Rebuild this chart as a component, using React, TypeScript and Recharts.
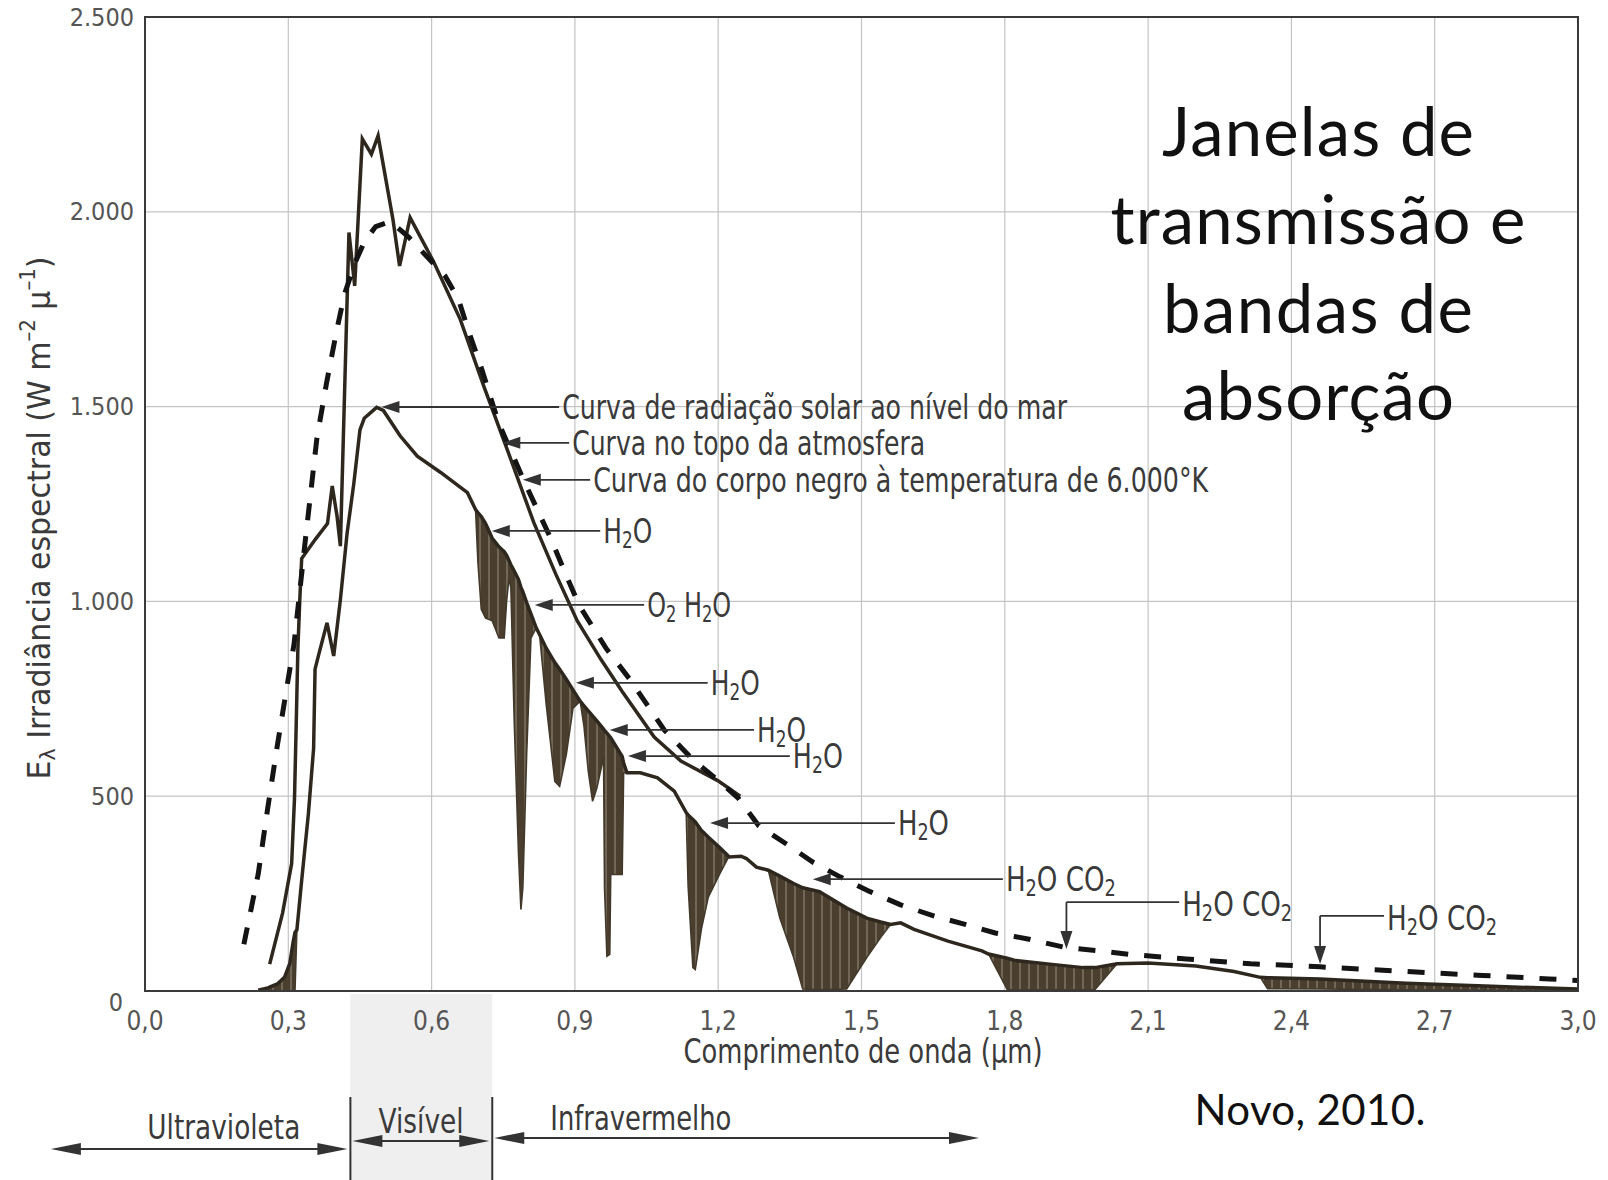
import React from "react";
import { ComposedChart, Line, Area, XAxis, YAxis, CartesianGrid } from "recharts";

// ---------------- layout ----------------
const W = 1608;
const H = 1180;
const PLOT_L = 145;
const PLOT_T = 17;
const PLOT_R = 1578;
const PLOT_B = 991;
const PLOT_W = PLOT_R - PLOT_L;
const PLOT_H = PLOT_B - PLOT_T;
const X_AXIS_H = 40;
const MARGIN = { top: PLOT_T, right: W - PLOT_R, left: 0, bottom: H - PLOT_B - X_AXIS_H };
const X_MIN = 0;
const X_MAX = 3;
const Y_MIN = 0;
const Y_MAX = 2500;

const NARROW = "'Liberation Sans Narrow', 'Arial Narrow', 'DejaVu Sans Condensed', 'Liberation Sans', sans-serif";
const TITLE_FONT = "Lato, 'Open Sans', 'Noto Sans', sans-serif";

// ---------------- axes ----------------
const xTicks = [0, 0.3, 0.6, 0.9, 1.2, 1.5, 1.8, 2.1, 2.4, 2.7, 3.0];
const yTicks = [0, 500, 1000, 1500, 2000, 2500];

// ---------------- data ----------------
// Curva de radiação solar ao nível do mar: envelope (linha) e curva com absorção
const seaX = [
  0.237, 0.257, 0.277, 0.292, 0.303, 0.31, 0.314, 0.318, 0.328, 0.342,
  0.353, 0.356, 0.363, 0.381, 0.395, 0.409, 0.423, 0.437, 0.45, 0.459,
  0.485, 0.499, 0.534, 0.57, 0.619, 0.675, 0.692, 0.697, 0.704, 0.713,
  0.727, 0.741, 0.752, 0.757, 0.762, 0.766, 0.773, 0.782, 0.787, 0.791,
  0.799, 0.808, 0.819, 0.826, 0.84, 0.858, 0.868, 0.882, 0.896, 0.911,
  0.919, 0.928, 0.937, 0.946, 0.96, 0.962, 0.967, 0.973, 0.975, 0.999,
  1.002, 1.009, 1.037, 1.073, 1.108, 1.133, 1.137, 1.147, 1.152, 1.165,
  1.179, 1.203, 1.22, 1.223, 1.248, 1.259, 1.28, 1.305, 1.329, 1.358,
  1.377, 1.412, 1.469, 1.511, 1.54, 1.561, 1.582, 1.61, 1.681, 1.752,
  1.766, 1.805, 1.823, 1.894, 1.964, 1.989, 2.035, 2.1, 2.2, 2.28,
  2.335, 2.35, 2.46, 2.64, 2.82, 3.0,
];
const seaEnvelope = [
  2, 8, 18, 35, 70, 125, 150, 157, 284, 454,
  623, 826, 860, 945, 860, 1004, 1174, 1301, 1440, 1470,
  1498, 1490, 1425, 1373, 1331, 1279, 1236, 1228, 1218, 1200,
  1162, 1140, 1128, 1118, 1105, 1094, 1078, 1056, 1036, 1025,
  997, 968, 932, 915, 880, 843, 826, 800, 773, 744,
  732, 719, 706, 693, 672, 669, 662, 653, 650, 602,
  585, 560, 560, 547, 513, 458, 452, 440, 434, 412,
  395, 368, 348, 344, 346, 340, 318, 310, 295, 276,
  265, 255, 213, 187, 177, 171, 175, 158, 128, 103,
  95, 84, 78, 69, 60, 60, 70, 72, 64, 50,
  35, 34, 31, 20, 12, 5,
];
const seaAbsorbed = [
  0, 0, 0, 0, 0, 0, 0, 157, 284, 454,
  623, 826, 860, 945, 860, 1004, 1174, 1301, 1440, 1470,
  1498, 1490, 1425, 1373, 1331, 1279, 1236, 1100, 980, 957,
  950, 906, 906, 1000, 1060, 1034, 692, 350, 209, 265,
  607, 906, 932, 915, 735, 538, 525, 607, 726, 744,
  680, 564, 487, 521, 600, 265, 89, 94, 299, 299,
  560, 560, 560, 547, 513, 458, 270, 60, 55, 160,
  240, 300, 340, 344, 346, 340, 318, 310, 187, 86,
  5, 3, 5, 86, 137, 171, 175, 158, 128, 103,
  95, 4, 3, 3, 3, 4, 70, 72, 64, 50,
  35, 6, 5, 3, 2, 1,
];

// Curva no topo da atmosfera
const toaX = [
  0.261, 0.288, 0.307, 0.313, 0.317, 0.32, 0.324, 0.328, 0.357, 0.382,
  0.392, 0.402, 0.409, 0.427, 0.439, 0.455, 0.474, 0.488, 0.519, 0.533,
  0.555, 0.605, 0.66, 0.709, 0.758, 0.814, 0.86, 0.905, 0.955, 0.999,
  1.066, 1.122, 1.199, 1.246,
];
const toaY = [
  69, 200, 327, 495, 708, 876, 1003, 1110, 1160, 1200,
  1296, 1219, 1142, 1947, 1810, 2187, 2148, 2195, 1981, 1861,
  1985, 1870, 1724, 1553, 1391, 1202, 1070, 950, 850, 769,
  652, 590, 540, 500,
];

// Curva do corpo negro a 6.000 K
const bbX = [
  0.207, 0.237, 0.257, 0.277, 0.297, 0.312, 0.335, 0.36, 0.38, 0.402,
  0.418, 0.44, 0.46, 0.483, 0.514, 0.552, 0.594, 0.628, 0.656, 0.676,
  0.705, 0.74, 0.795, 0.85, 0.879, 0.909, 0.965, 1.015, 1.087, 1.146,
  1.21, 1.242, 1.285, 1.342, 1.398, 1.455, 1.518, 1.582, 1.653, 1.717,
  1.78, 1.851, 1.929, 2.0, 2.06, 2.18, 2.315, 2.46, 2.64, 2.8,
  2.94, 3.0,
];
const bbY = [
  120, 300, 470, 630, 780, 890, 1150, 1420, 1560, 1700,
  1790, 1870, 1925, 1962, 1975, 1935, 1880, 1836, 1776, 1699,
  1596, 1459, 1305, 1160, 1075, 990, 880, 800, 670, 595,
  530, 495, 424, 378, 331, 293, 255, 221, 192, 171,
  149, 133, 111, 103, 94, 82, 70, 62, 50, 40,
  31, 27,
];

// ---------------- annotations (data units) ----------------
const noteTipX = [0.495, 0.748, 0.791, 0.726, 0.816, 0.902, 0.973, 1.011, 1.183, 1.398];
const noteTipY = [1499, 1407, 1312, 1181, 991, 791, 670, 603, 431, 287];
const noteTailX = [0.867, 0.888, 0.932, 0.953, 1.045, 1.178, 1.275, 1.35, 1.57, 1.796];
const noteLabels = [
  "Curva de radiação solar ao nível do mar",
  "Curva no topo da atmosfera",
  "Curva do corpo negro à temperatura de 6.000°K",
  "H_2O",
  "O_2 H_2O",
  "H_2O",
  "H_2O",
  "H_2O",
  "H_2O",
  "H_2O CO_2",
];
const noteWidths = [505, 353, 615, 49, 84, 49, 49, 50, 51, 110];

const leaderTipX = [1.929, 2.46];
const leaderTipY = [108, 69];
const leaderElbowY = [228, 193];
const leaderTailX = [2.165, 2.594];
const leaderLabels = ["H_2O CO_2", "H_2O CO_2"];
const leaderWidths = [110, 110];

// spectral regions below the axis
const bandEdges = [0.43, 0.727];
const bandArrowStart = -0.197;
const bandArrowEnd = 1.746;
const bandNames = ["Ultravioleta", "Visível", "Infravermelho"];
const bandLabelX = [0.165, 0.578, 1.038];
const bandLabelW = [153, 85, 181];

const titleLines = ["Janelas de", "transmissão e", "bandas de", "absorção"];
const titleWidths = [312, 415, 310, 272];
const sourceText = "Novo, 2010.";

// ---------------- helpers ----------------
const seaRows = seaX.map((x, i) => ({
  x,
  env: seaEnvelope[i],
  abs: seaAbsorbed[i],
  band: [seaAbsorbed[i], seaEnvelope[i]],
}));
const toaRows = toaX.map((x, i) => ({ x, y: toaY[i] }));
const bbRows = bbX.map((x, i) => ({ x, y: bbY[i] }));

const px = (x: number) => PLOT_L + ((x - X_MIN) / (X_MAX - X_MIN)) * PLOT_W;
const py = (y: number) => PLOT_B - ((y - Y_MIN) / (Y_MAX - Y_MIN)) * PLOT_H;

function parts(label: string, size: number) {
  const out: any[] = [];
  let shift = 0;
  let buf = "";
  const flush = (k: number) => {
    if (buf) {
      const dy = 0 - shift;
      shift = 0;
      out.push(
        <tspan key={"n" + k} dy={dy}>
          {buf}
        </tspan>
      );
      buf = "";
    }
  };
  for (let i = 0; i < label.length; i++) {
    const c = label[i];
    if (c === "_" && i + 1 < label.length) {
      flush(i);
      const target = size * 0.28;
      out.push(
        <tspan key={"s" + i} dy={target - shift} fontSize={size * 0.68}>
          {label[i + 1]}
        </tspan>
      );
      shift = target;
      i++;
    } else {
      buf += c;
    }
  }
  flush(label.length);
  return out;
}

const XTick = (p: any) => {
  const v = Number(p.payload.value);
  return (
    <text
      x={p.x}
      y={p.y}
      dy={22}
      textAnchor="middle"
      dominantBaseline="central"
      fontFamily={NARROW}
      fontSize={26}
      fill="#555"
    >
      {v.toFixed(1).replace(".", ",")}
    </text>
  );
};

const YTick = (p: any) => {
  const v = Number(p.payload.value);
  const label = v >= 1000 ? `${Math.floor(v / 1000)}.${String(v % 1000).padStart(3, "0")}` : String(v);
  return (
    <text
      x={p.x}
      y={p.y}
      dx={v === 0 ? -14 : -3}
      dy={v === 0 ? 11 : 0}
      textAnchor="end"
      dominantBaseline="central"
      fontFamily={NARROW}
      fontSize={25}
      fill="#555"
    >
      {label}
    </text>
  );
};

const INK = "#333";

function Overlay() {
  const ah = 18;
  const hw = 6;
  return (
    <svg
      width={W}
      height={H}
      style={{ position: "absolute", left: 0, top: 0, pointerEvents: "none" }}
    >
      {/* frame */}
      <rect x={PLOT_L} y={PLOT_T} width={PLOT_W} height={PLOT_H} fill="none" stroke="#3a3a3a" strokeWidth={2} />

      {/* arrow notes */}
      {noteTipX.map((tx, i) => {
        const x1 = px(tx);
        const y = py(noteTipY[i]);
        const x2 = px(noteTailX[i]);
        return (
          <g key={"note" + i}>
            <line x1={x1 + ah - 2} y1={y} x2={x2} y2={y} stroke={INK} strokeWidth={1.8} />
            <polygon points={`${x1},${y} ${x1 + ah},${y - hw} ${x1 + ah},${y + hw}`} fill={INK} />
            <text
              x={x2 + 3}
              y={y}
              dominantBaseline="central"
              fontFamily={NARROW}
              fontSize={33}
              fill="#3a3a3a"
              textLength={noteWidths[i]}
              lengthAdjust="spacingAndGlyphs"
            >
              {parts(noteLabels[i], 33)}
            </text>
          </g>
        );
      })}

      {/* leader notes */}
      {leaderTipX.map((tx, i) => {
        const x = px(tx);
        const yTip = py(leaderTipY[i]);
        const yE = py(leaderElbowY[i]);
        const xT = px(leaderTailX[i]);
        return (
          <g key={"lead" + i}>
            <line x1={x} y1={yE} x2={x} y2={yTip - ah + 2} stroke={INK} strokeWidth={1.8} />
            <line x1={x} y1={yE} x2={xT} y2={yE} stroke={INK} strokeWidth={1.8} />
            <polygon points={`${x},${yTip} ${x - hw},${yTip - ah} ${x + hw},${yTip - ah}`} fill={INK} />
            <text
              x={xT + 3}
              y={yE + 2}
              dominantBaseline="central"
              fontFamily={NARROW}
              fontSize={33}
              fill="#3a3a3a"
              textLength={leaderWidths[i]}
              lengthAdjust="spacingAndGlyphs"
            >
              {parts(leaderLabels[i], 33)}
            </text>
          </g>
        );
      })}

      {/* axis titles */}
      <text
        x={863}
        y={1051}
        textAnchor="middle"
        dominantBaseline="central"
        fontFamily={NARROW}
        fontSize={34}
        fill="#3a3a3a"
        textLength={359}
        lengthAdjust="spacingAndGlyphs"
      >
        Comprimento de onda (µm)
      </text>
      <text
        x={39}
        y={518}
        transform="rotate(-90 39 518)"
        textAnchor="middle"
        dominantBaseline="central"
        fontFamily={NARROW}
        fontSize={32}
        fill="#3a3a3a"
        textLength={523}
        lengthAdjust="spacingAndGlyphs"
      >
        <tspan>E</tspan>
        <tspan dy={8} fontSize={22}>λ</tspan>
        <tspan dy={-8}> Irradiância espectral (W m</tspan>
        <tspan dy={-11} fontSize={21}>–2</tspan>
        <tspan dy={11}> µ</tspan>
        <tspan dy={-11} fontSize={21}>–1</tspan>
        <tspan dy={11}>)</tspan>
      </text>

      {/* spectral regions */}
      {bandEdges.map((e, i) => (
        <line key={"edge" + i} x1={px(e)} y1={1097} x2={px(e)} y2={1180} stroke={INK} strokeWidth={2} />
      ))}
      {[
        [bandArrowStart, bandEdges[0], 1149],
        [bandEdges[0], bandEdges[1], 1141],
        [bandEdges[1], bandArrowEnd, 1138],
      ].map(([a, b, y], i) => {
        const xa = px(a) + (i === 0 ? 0 : 2);
        const xb = px(b) - (i === 2 ? 0 : 3);
        const L = 30;
        return (
          <g key={"barrow" + i}>
            <line x1={xa + L - 4} y1={y} x2={xb - L + 4} y2={y} stroke={INK} strokeWidth={2} />
            <polygon points={`${xa},${y} ${xa + L},${y - 6} ${xa + L},${y + 6}`} fill={INK} />
            <polygon points={`${xb},${y} ${xb - L},${y - 6} ${xb - L},${y + 6}`} fill={INK} />
          </g>
        );
      })}
      {bandNames.map((n, i) => (
        <text
          key={"bn" + i}
          x={px(bandLabelX[i])}
          y={[1127, 1121, 1118][i]}
          textAnchor="middle"
          dominantBaseline="central"
          fontFamily={NARROW}
          fontSize={34}
          fill="#3a3a3a"
          textLength={bandLabelW[i]}
          lengthAdjust="spacingAndGlyphs"
        >
          {n}
        </text>
      ))}

      {/* title */}
      {titleLines.map((t, i) => (
        <text
          key={"t" + i}
          x={1318}
          y={[156, 244, 333, 420][i]}
          textAnchor="middle"
          fontFamily={TITLE_FONT}
          fontSize={67}
          fill="#111"
          textLength={titleWidths[i]}
          lengthAdjust="spacing"
        >
          {t}
        </text>
      ))}
      <text
        x={1310}
        y={1125}
        textAnchor="middle"
        fontFamily={TITLE_FONT}
        fontSize={42}
        fill="#111"
        textLength={231}
        lengthAdjust="spacing"
      >
        {sourceText}
      </text>
    </svg>
  );
}

function Background() {
  return (
    <svg width={W} height={H} style={{ position: "absolute", left: 0, top: 0 }}>
      <defs>
        <pattern id="absorptionHatch" width="9" height="12" patternUnits="userSpaceOnUse">
          <rect width="9" height="12" fill="#4a3f2f" />
          <line x1="3" y1="0" x2="3" y2="12" stroke="#d9d1c1" strokeWidth="1" opacity="0.55" />
        </pattern>
      </defs>
      <rect x={px(bandEdges[0])} y={PLOT_B + 3} width={px(bandEdges[1]) - px(bandEdges[0])} height={H - PLOT_B - 3} fill="#efefef" />
    </svg>
  );
}

export default function App() {
  return (
    <div style={{ position: "absolute", left: 0, top: 0, width: W, height: H, background: "#fff", overflow: "hidden" }}>
      <Background />
      <div style={{ position: "absolute", left: 0, top: 0 }}>
        <ComposedChart width={W} height={H} margin={MARGIN}>
          <CartesianGrid stroke="#c4c4c4" strokeWidth={1.2} />
          <XAxis
            dataKey="x"
            type="number"
            domain={[X_MIN, X_MAX]}
            ticks={xTicks}
            interval={0}
            tickLine={false}
            axisLine={false}
            height={X_AXIS_H}
            tick={<XTick />}
            allowDataOverflow
          />
          <YAxis
            type="number"
            domain={[Y_MIN, Y_MAX]}
            ticks={yTicks}
            interval={0}
            width={PLOT_L}
            tickLine={false}
            axisLine={false}
            tick={<YTick />}
            allowDataOverflow
          />
          <Area
            data={seaRows}
            dataKey="band"
            type="linear"
            stroke="none"
            fill="url(#absorptionHatch)"
            fillOpacity={1}
            dot={false}
            activeDot={false}
            isAnimationActive={false}
          />
          <Line data={seaRows} dataKey="abs" type="linear" stroke="#43392b" strokeWidth={1.6} dot={false} activeDot={false} isAnimationActive={false} />
          <Line data={seaRows} dataKey="env" type="linear" stroke="#2e271e" strokeWidth={3.5} dot={false} activeDot={false} isAnimationActive={false} />
          <Line data={toaRows} dataKey="y" type="linear" stroke="#2e271e" strokeWidth={3.5} dot={false} activeDot={false} isAnimationActive={false} />
          <Line data={bbRows} dataKey="y" type="linear" stroke="#141414" strokeWidth={5} strokeDasharray="17 16" dot={false} activeDot={false} isAnimationActive={false} />
        </ComposedChart>
      </div>
      <Overlay />
    </div>
  );
}
